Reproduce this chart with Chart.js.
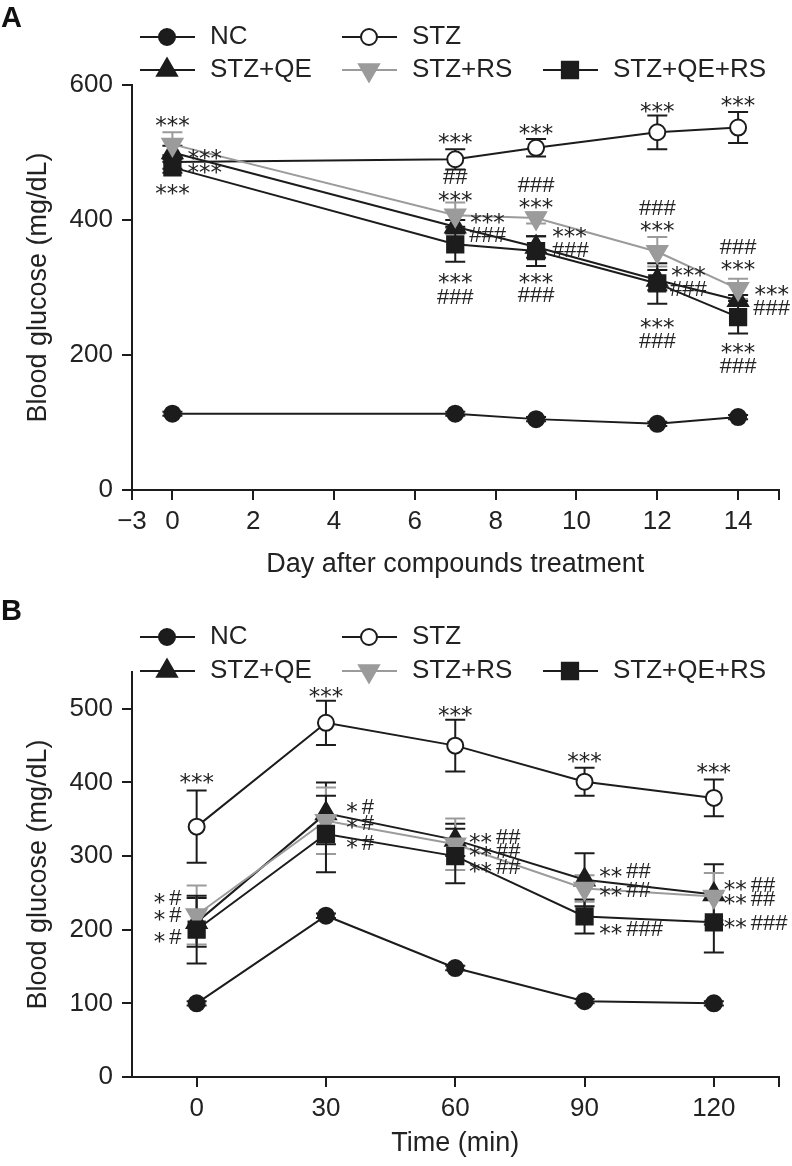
<!DOCTYPE html>
<html>
<head>
<meta charset="utf-8">
<script src="https://cdn.jsdelivr.net/npm/chart.js@4.4.1/dist/chart.umd.min.js"></script>
<style>
  body { margin: 0; background: #fff; }
  #wrap { position: relative; width: 792px; height: 1166px; }
  .panel { position: absolute; left: 0; width: 792px; }
  .tag { position: absolute; left: 1px; font: bold 29px "Liberation Sans", Arial, sans-serif; line-height: 28px; color: #111; }
</style>
</head>
<body>
<div id="wrap">
  <div class="panel" style="top:0;height:590px"><canvas id="chartA" width="792" height="590"></canvas></div>
  <div class="panel" style="top:590px;height:576px"><canvas id="chartB" width="792" height="576"></canvas></div>
  <div class="tag" style="top:3px">A</div>
  <div class="tag" style="top:596px">B</div>
</div>
<script>
const SERIES = ['NC', 'STZ', 'STZ+QE', 'STZ+RS', 'STZ+QE+RS'];

// Panel A - blood glucose over the treatment days
const daysA = [0, 7, 9, 12, 14];
const ncA = [113, 113, 105, 98, 108];
const stzA = [486, 490, 507, 530, 537];
const stzQeA = [500, 390, 360, 311, 281];
const stzRsA = [512, 407, 403, 353, 298];
const stzQeRsA = [478, 364, 354, 306, 256];
const errNcA = [3, 3, 3, 3, 3];
const errStzA = [10, 15, 13, 25, 23];
const errStzQeA = [10, 10, 16, 15, 8];
const errStzRsA = [18, 19, 8, 22, 15];
const errStzQeRsA = [8, 26, 22, 30, 24];
const dayTicks = [-1, 0, 2, 4, 6, 8, 10, 12, 14, 15];
const dayTickLabels = ['\u22123', '0', '2', '4', '6', '8', '10', '12', '14', ''];
const glucoseTicksA = [0, 200, 400, 600];

// Panel B - glucose tolerance test
const timesB = [0, 30, 60, 90, 120];
const ncB = [100, 219, 148, 103, 100];
const stzB = [340, 481, 450, 401, 379];
const stzQeB = [210, 358, 322, 268, 248];
const stzRsB = [220, 348, 316, 256, 245];
const stzQeRsB = [200, 330, 300, 218, 210];
const errNcB = [3, 3, 3, 3, 3];
const errStzB = [49, 30, 35, 19, 25];
const errStzQeB = [33, 42, 22, 36, 41];
const errStzRsB = [40, 45, 35, 18, 32];
const errStzQeRsB = [46, 52, 37, 23, 41];
const timeTicks = [0, 30, 60, 90, 120, 135];
const timeTickLabels = ['0', '30', '60', '90', '120', ''];
const glucoseTicksB = [0, 100, 200, 300, 400, 500];

// significance marks: [x, y, text, align]
const marksA = [
  [0, 548, '***'], [0, 447, '***'], [0.8, 499, '***'], [0.8, 478, '***'],
  [7, 523, '***'], [7, 464, '##'], [7, 437, '***'], [7.8, 404, '***'], [7.8, 378, '###'], [7, 316, '***'], [7, 286, '###'],
  [9, 536, '***'], [9, 453, '###'], [9, 427, '***'], [9.83, 384, '***'], [9.85, 356, '###'], [9, 316, '***'], [9, 289, '###'],
  [12, 569, '***'], [12, 419, '###'], [12, 393, '***'], [12.77, 326, '***'], [12.77, 299, '###'], [12, 249, '***'], [12, 222, '###'],
  [14, 578, '***'], [14, 361, '###'], [14, 335, '***'], [14.83, 298, '***'], [14.83, 270, '###'], [14, 212, '***'], [14, 184, '###']
];
const marksB = [
  [0, 408, '***'], [30, 524, '***'], [60, 498, '***'], [90, 436, '***'], [120, 421, '***'],
  [-3.5, 244, '* #', 'right'], [-3.5, 221, '* #', 'right'], [-3.5, 191, '* #', 'right'],
  [34.7, 368, '* #', 'left'], [34.7, 346, '* #', 'left'], [34.7, 319, '* #', 'left'],
  [63.2, 326, '** ##', 'left'], [63.2, 308, '** ##', 'left'], [63.2, 286, '** ##', 'left'],
  [93.4, 280, '** ##', 'left'], [93.4, 254, '** ##', 'left'], [93.4, 202, '** ###', 'left'],
  [122.3, 262, '** ##', 'left'], [122.3, 243, '** ##', 'left'], [122.3, 210, '** ###', 'left']
];

const FONT = '"Liberation Sans", Arial, sans-serif';
const BLACK = '#1c1c1c';
const GRAY = '#9b9b9b';
const INK = '#222';

const styles = [
  { color: BLACK, fill: BLACK, shape: 'circle', radius: 8, rotation: 0, order: 4 },
  { color: BLACK, fill: '#fff', shape: 'circle', radius: 8, rotation: 0, order: 3 },
  { color: BLACK, fill: BLACK, shape: 'triangle', radius: 11.5, rotation: 0, order: 2 },
  { color: GRAY, fill: GRAY, shape: 'triangle', radius: 11.5, rotation: 180, order: 1 },
  { color: BLACK, fill: BLACK, shape: 'rect', radius: 11.5, rotation: 0, order: 0 }
];

function buildDatasets(xs, series, errs) {
  return series.map((vals, i) => ({
    label: SERIES[i],
    data: xs.map((x, j) => ({ x: x, y: vals[j] })),
    err: errs[i],
    borderColor: styles[i].color,
    backgroundColor: styles[i].fill,
    pointBackgroundColor: styles[i].fill,
    pointBorderColor: styles[i].color,
    pointBorderWidth: 2,
    pointStyle: styles[i].shape,
    pointRadius: styles[i].radius,
    pointHoverRadius: styles[i].radius,
    pointRotation: styles[i].rotation,
    borderWidth: 2,
    tension: 0,
    fill: false,
    order: styles[i].order
  }));
}

function drawMarker(ctx, st, x, y) {
  ctx.save();
  ctx.fillStyle = st.fill;
  ctx.strokeStyle = st.color;
  ctx.lineWidth = 2;
  ctx.beginPath();
  if (st.shape === 'circle') {
    ctx.arc(x, y, st.radius, 0, Math.PI * 2);
  } else if (st.shape === 'rect') {
    const s = st.radius * Math.SQRT1_2;
    ctx.rect(x - s, y - s, 2 * s, 2 * s);
  } else {
    let a = st.rotation * Math.PI / 180;
    for (let k = 0; k < 3; k++) {
      const px = x + Math.sin(a) * st.radius, py = y - Math.cos(a) * st.radius;
      if (k === 0) ctx.moveTo(px, py); else ctx.lineTo(px, py);
      a += Math.PI * 2 / 3;
    }
    ctx.closePath();
  }
  ctx.fill();
  ctx.stroke();
  ctx.restore();
}

const errorBars = {
  id: 'errorBars',
  beforeDatasetsDraw(chart) {
    const { ctx, scales: { x, y } } = chart;
    const sets = chart.data.datasets.slice().sort((a, b) => b.order - a.order);
    ctx.save();
    ctx.lineWidth = 2;
    sets.forEach(ds => {
      ctx.strokeStyle = ds.borderColor;
      ds.data.forEach((p, j) => {
        const e = ds.err[j];
        if (!e) return;
        const px = x.getPixelForValue(p.x);
        const top = y.getPixelForValue(p.y + e);
        const bot = y.getPixelForValue(p.y - e);
        ctx.beginPath();
        ctx.moveTo(px, top); ctx.lineTo(px, bot);
        ctx.moveTo(px - 10, top); ctx.lineTo(px + 10, top);
        ctx.moveTo(px - 10, bot); ctx.lineTo(px + 10, bot);
        ctx.stroke();
      });
    });
    ctx.restore();
  }
};

const STAR_FONT = '23px "DejaVu Sans", sans-serif';
const HASH_FONT = '22px ' + FONT;

function drawMark(ctx, text, cx, cy, align) {
  const parts = [];
  let total = 0;
  for (const ch of text) {
    ctx.font = ch === '*' ? STAR_FONT : HASH_FONT;
    const w = ch === ' ' ? 4 : ctx.measureText(ch).width;
    parts.push([ch, w]);
    total += w;
  }
  let x = align === 'left' ? cx : align === 'right' ? cx - total : cx - total / 2;
  ctx.textAlign = 'left';
  ctx.textBaseline = 'alphabetic';
  parts.forEach(([ch, w]) => {
    if (ch === '*') { ctx.font = STAR_FONT; ctx.fillText(ch, x, cy + 13); }
    else if (ch !== ' ') { ctx.font = HASH_FONT; ctx.fillText(ch, x, cy + 7.5); }
    x += w;
  });
}

const marks = {
  id: 'marks',
  afterDatasetsDraw(chart, args, opts) {
    const { ctx, scales: { x, y } } = chart;
    ctx.save();
    ctx.fillStyle = INK;
    opts.list.forEach(m => {
      drawMark(ctx, m[2], x.getPixelForValue(m[0]), y.getPixelForValue(m[1]), m[3] || 'center');
    });
    ctx.restore();
  }
};

// two-row key with a line sample through each marker
const keyLegend = {
  id: 'keyLegend',
  afterDraw(chart, args, opts) {
    const ctx = chart.ctx;
    const slots = [[140, 0], [342, 0], [140, 1], [342, 1], [543, 1]];
    ctx.save();
    chart.data.datasets.forEach((ds, i) => {
      const [x0, row] = slots[i];
      const y = opts.rows[row];
      const st = styles[i];
      ctx.strokeStyle = st.color;
      ctx.lineWidth = 2;
      ctx.beginPath();
      ctx.moveTo(x0, y); ctx.lineTo(x0 + 55, y);
      ctx.stroke();
      drawMarker(ctx, st, x0 + 27, y);
      ctx.fillStyle = INK;
      ctx.font = '26px ' + FONT;
      ctx.textAlign = 'left';
      ctx.textBaseline = 'middle';
      ctx.fillText(ds.label, x0 + 70, y);
    });
    ctx.restore();
  }
};

function axisCommon() {
  return {
    type: 'linear',
    grid: { display: true, drawOnChartArea: false, drawTicks: true, tickLength: 10, color: BLACK, lineWidth: 2 },
    border: { display: true, color: BLACK, width: 2 },
    title: { display: true, color: INK, font: { family: FONT, size: 27, lineHeight: 1 } }
  };
}

function makeChart(id, cfg) {
  const xAxis = axisCommon();
  Object.assign(xAxis, {
    min: cfg.xMin, max: cfg.xMax,
    afterBuildTicks: s => { s.ticks = cfg.xTicks.map(v => ({ value: v })); },
    afterFit: s => { s.height = cfg.xHeight; },
    ticks: { autoSkip: false, maxRotation: 0, minRotation: 0, padding: 6, color: INK,
      font: { family: FONT, size: 26 }, callback: (v, i) => cfg.xLabels[i] }
  });
  xAxis.title.text = cfg.xTitle;
  xAxis.title.padding = { top: 0, bottom: cfg.xTitlePad };

  const yAxis = axisCommon();
  Object.assign(yAxis, {
    min: 0, max: cfg.yMax,
    afterBuildTicks: s => { s.ticks = cfg.yTicks.map(v => ({ value: v })); },
    afterFit: s => { s.width = 132; },
    ticks: { padding: 9, color: INK, font: { family: FONT, size: 26 }, callback: v => String(v) }
  });
  yAxis.title.text = 'Blood glucose (mg/dL)';
  yAxis.title.padding = { top: 25, bottom: 0 };

  return new Chart(document.getElementById(id), {
    type: 'line',
    data: { datasets: cfg.datasets },
    options: {
      responsive: false,
      animation: false,
      devicePixelRatio: 1,
      layout: { padding: { left: 0, right: 12, top: cfg.top, bottom: 0 } },
      scales: { x: xAxis, y: yAxis },
      plugins: {
        legend: { display: false },
        tooltip: { enabled: false },
        keyLegend: { rows: cfg.legendRows },
        marks: { list: cfg.marks }
      }
    },
    plugins: [errorBars, marks, keyLegend]
  });
}

makeChart('chartA', {
  datasets: buildDatasets(daysA, [ncA, stzA, stzQeA, stzRsA, stzQeRsA],
    [errNcA, errStzA, errStzQeA, errStzRsA, errStzQeRsA]),
  xMin: -1, xMax: 15, xTicks: dayTicks, xLabels: dayTickLabels,
  xTitle: 'Day after compounds treatment', xHeight: 100, xTitlePad: 12,
  yMax: 600, yTicks: glucoseTicksA, top: 85, legendRows: [37, 70], marks: marksA
});

makeChart('chartB', {
  datasets: buildDatasets(timesB, [ncB, stzB, stzQeB, stzRsB, stzQeRsB],
    [errNcB, errStzB, errStzQeB, errStzRsB, errStzQeRsB]),
  xMin: -15, xMax: 135, xTicks: timeTicks, xLabels: timeTickLabels,
  xTitle: 'Time (min)', xHeight: 89, xTitlePad: 9,
  yMax: 550, yTicks: glucoseTicksB, top: 82, legendRows: [47, 81], marks: marksB
});
</script>
</body>
</html>
